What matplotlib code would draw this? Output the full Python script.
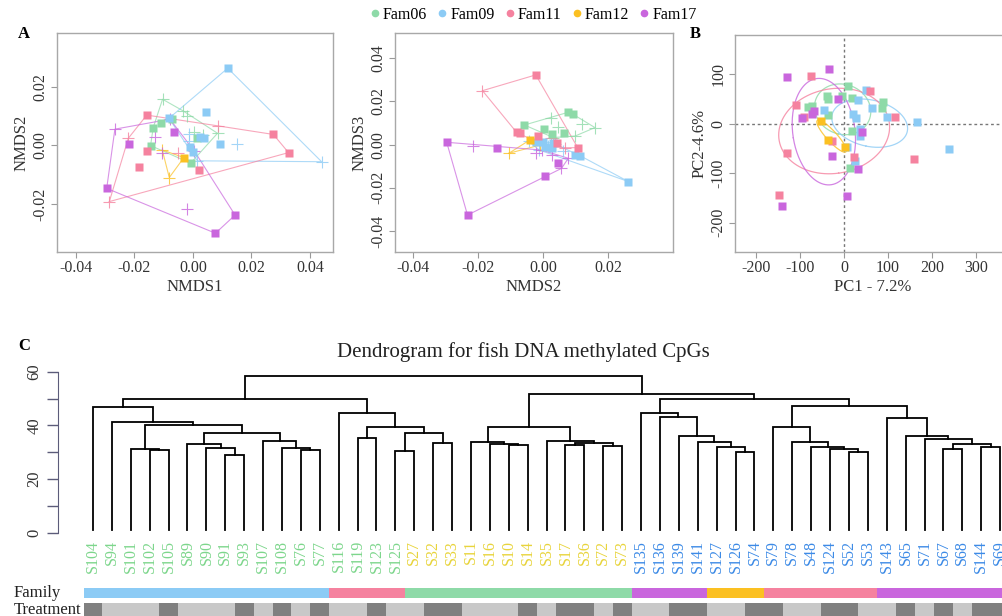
import numpy as np
import matplotlib.pyplot as plt
from matplotlib.lines import Line2D

plt.rcParams['font.family'] = ['Liberation Serif', 'DejaVu Serif']
plt.rcParams['axes.unicode_minus'] = False

families = ['Fam06', 'Fam09', 'Fam11', 'Fam12', 'Fam17']
fam_colors = ['#8EDAA8', '#8CCBF5', '#F5829F', '#FBC022', '#C966DD']
fam_counts = [12, 13, 10, 3, 11]

# Panel A: NMDS1 vs NMDS2 (shape 1 = square, 0 = plus)
nmds1_a = [-0.0104, -0.0033, -0.0022, 0.0084, 0.0033, 0.0005, -0.0073, -0.0109, -0.0136, -0.0145, -0.0008, 0.0013,
           0.0119, 0.0043, -0.0082, 0.0024, 0.0038, 0.0091, -0.0010, -0.0001, 0.0440, -0.0013, 0.0152, 0.0015, -0.0012,
           -0.0158, 0.0275, 0.0327, -0.0156, -0.0185, 0.0022, 0.0087, -0.0221, -0.0286, -0.0052,
           -0.0031, -0.0105, -0.0081,
           -0.0295, -0.0220, -0.0066, 0.0144, 0.0077, -0.0267, -0.0130, -0.0079, -0.0019, -0.0105, 0.0005]
nmds2_a = [0.0157, 0.0117, 0.0101, 0.0041, 0.0035, 0.0045, 0.0090, 0.0075, 0.0060, -0.0001, -0.0061, 0.0026,
           0.0263, 0.0113, 0.0092, 0.0027, 0.0024, 0.0003, -0.0005, -0.0022, -0.0056, 0.0039, 0.0004, -0.0053, 0.0015,
           0.0103, 0.0037, -0.0025, -0.0018, -0.0073, -0.0084, 0.0066, 0.0024, -0.0192, -0.0025,
           -0.0042, -0.0016, -0.0110,
           -0.0147, 0.0003, 0.0044, -0.0238, -0.0300, 0.0055, 0.0027, 0.0089, -0.0218, -0.0025, -0.0020]
shape_a = [0, 0, 0, 0, 0, 0, 1, 1, 1, 1, 1, 1,
           1, 1, 1, 1, 1, 1, 1, 1, 0, 0, 0, 0, 0,
           1, 1, 1, 1, 1, 1, 0, 0, 0, 0,
           1, 0, 0,
           1, 1, 1, 1, 1, 0, 0, 0, 0, 0, 0]

# Panel A (right): NMDS2 vs NMDS3
nmds2_b = [0.0023, 0.0046, 0.0119, 0.0159, 0.0098, 0.0031, -0.0058, 0.0077, 0.0090, 0.0002, 0.0027, 0.0063,
           0.0262, 0.0097, 0.0113, -0.0021, 0.0000, 0.0005, 0.0028, 0.0031, -0.0045, -0.0012, 0.0035, 0.0060, 0.0015,
           -0.0023, -0.0082, -0.0072, -0.0015, 0.0041, 0.0106, -0.0187, 0.0067, 0.0024, 0.0000,
           -0.0041, -0.0106, -0.0010,
           -0.0297, -0.0142, 0.0046, 0.0005, -0.0233, -0.0215, -0.0022, 0.0027, 0.0056, 0.0077, -0.0005]
nmds3_b = [0.0125, 0.0083, 0.0096, 0.0079, 0.0040, 0.0033, 0.0091, 0.0150, 0.0142, 0.0071, 0.0049, 0.0053,
           -0.0171, -0.0048, -0.0051, 0.0014, 0.0014, -0.0009, -0.0014, 0.0006, 0.0015, -0.0025, 0.0003, -0.0030, -0.0008,
           0.0323, 0.0057, 0.0053, 0.0042, 0.0009, -0.0014, 0.0250, -0.0014, 0.0029, -0.0002,
           0.0022, -0.0040, -0.0002,
           0.0011, -0.0014, -0.0083, -0.0145, -0.0326, -0.0005, -0.0040, -0.0050, -0.0110, -0.0063, -0.0025]
shape_b = [0, 0, 0, 0, 0, 0, 1, 1, 1, 1, 1, 1,
           1, 1, 1, 1, 1, 1, 1, 1, 0, 0, 0, 0, 0,
           1, 1, 1, 1, 1, 1, 0, 0, 0, 0,
           1, 0, 0,
           1, 1, 1, 1, 1, 0, 0, 0, 0, 0, 0]

# Panel B: PCA scores
pc1 = [9.8, -37.9, -35.6, -82.6, -73.5, 17.4, 88.0, 87.1, -37.0, 18.9, 13.6, -5.0,
       50.0, 32.6, -44.7, 21.2, 26.6, 64.4, 98.5, 166.6, 238.6, 36.4, 36.4, 7.5, 25.0,
       -75.0, -109.8, -130.2, -147.7, 59.1, 115.9, 159.0, -28.0, 23.4, -90.2,
       -52.3, -35.6, 3.4,
       -130.2, -33.4, -14.3, -94.8, -68.0, -73.4, 40.2, -28.0, 32.6, 6.1, -140.2]
pc2 = [75.8, 55.6, 49.6, 34.1, 35.5, 51.0, 44.0, 30.8, 17.3, -15.0, -89.0, 56.0,
       67.6, 47.4, 27.4, 19.3, 10.6, 32.0, 13.8, 3.7, -51.3, -11.6, -24.4, -48.0, -75.0,
       96.0, 37.5, -59.9, -144.0, 66.3, 13.8, -72.0, -34.5, -66.8, 13.8,
       5.2, -33.2, -48.0,
       93.3, 109.5, 49.6, 11.8, 25.3, 18.6, -17.6, -65.5, -91.7, -146.2, -165.7]

# Dendrogram (leaves in plotted order)
leaf_names = ['S104', 'S94', 'S101', 'S102', 'S105', 'S89', 'S90', 'S91', 'S93', 'S107', 'S108', 'S76', 'S77',
              'S116', 'S119', 'S123', 'S125', 'S27', 'S32', 'S33', 'S11', 'S16', 'S10', 'S14', 'S35', 'S17',
              'S36', 'S72', 'S73', 'S135', 'S136', 'S139', 'S141', 'S127', 'S126', 'S74', 'S79', 'S78', 'S48',
              'S124', 'S52', 'S53', 'S143', 'S65', 'S71', 'S67', 'S68', 'S144', 'S69']
leaf_cluster = [0, 0, 0, 0, 0, 0, 0, 0, 0, 0, 0, 0, 0, 0, 0, 0, 0,
                1, 1, 1, 1, 1, 1, 1, 1, 1, 1, 1, 1,
                2, 2, 2, 2, 2, 2, 2, 2, 2, 2, 2, 2, 2, 2, 2, 2, 2, 2, 2, 2]
cluster_colors = ['#7DD68C', '#E8D43C', '#3C8AE6']
leaf_family = ['Fam09', 'Fam09', 'Fam09', 'Fam09', 'Fam09', 'Fam09', 'Fam09', 'Fam09', 'Fam09', 'Fam09', 'Fam09',
               'Fam09', 'Fam09', 'Fam11', 'Fam11', 'Fam11', 'Fam11', 'Fam06', 'Fam06', 'Fam06', 'Fam06', 'Fam06',
               'Fam06', 'Fam06', 'Fam06', 'Fam06', 'Fam06', 'Fam06', 'Fam06', 'Fam17', 'Fam17', 'Fam17', 'Fam17',
               'Fam12', 'Fam12', 'Fam12', 'Fam11', 'Fam11', 'Fam11', 'Fam11', 'Fam11', 'Fam11', 'Fam17', 'Fam17',
               'Fam17', 'Fam17', 'Fam17', 'Fam17', 'Fam17']
leaf_treatment = [1, 0, 0, 0, 1, 0, 0, 0, 1, 0, 1, 0, 1, 0, 0, 1, 0, 0, 1, 1, 0, 0, 0, 1, 0, 1, 1, 0, 1,
                  0, 0, 1, 1, 0, 0, 1, 1, 0, 0, 1, 1, 0, 0, 1, 0, 1, 0, 1, 1]
treat_colors = ['#C8C8C8', '#808080']

# merges: node ids < 49 are leaves, >= 49 are earlier merges
merge_left = [3, 2, 7, 6, 5, 11, 10, 9, 53, 50, 1, 0,
              14, 16, 18, 62, 61, 13, 60,
              22, 21, 20, 25, 27, 71, 24, 70,
              34, 33, 32, 31, 30, 29,
              40, 39, 38, 37, 36,
              45, 47, 87, 44, 43, 42, 86, 81, 75, 67]
merge_right = [4, 49, 8, 51, 52, 12, 54, 55, 56, 57, 58, 59,
               15, 17, 19, 63, 64, 65, 66,
               23, 68, 69, 26, 28, 72, 73, 74,
               35, 76, 77, 78, 79, 80,
               41, 82, 83, 84, 85,
               46, 48, 88, 89, 90, 91, 92, 93, 94, 95]
merge_height = [30.8, 31.2, 29.0, 31.5, 33.1, 30.8, 31.5, 34.2, 37.1, 40.2, 41.4, 46.8,
                35.5, 30.5, 33.6, 37.1, 39.5, 44.5, 49.9,
                32.6, 33.0, 33.7, 32.7, 32.4, 33.6, 34.2, 39.3,
                30.3, 32.1, 34.0, 36.2, 43.3, 44.5,
                30.3, 31.1, 32.1, 33.7, 39.3,
                31.2, 32.1, 33.1, 35.0, 36.1, 42.9, 47.4, 49.9, 51.6, 58.5]

W, H = 1003, 616


def box(x0, y0, x1, y1):
    return [x0 / W, 1 - y1 / H, (x1 - x0) / W, (y1 - y0) / H]


def hull(pts):
    pts = sorted(set(map(tuple, pts)))
    if len(pts) < 3:
        return pts

    def cross(o, a, b):
        return (a[0] - o[0]) * (b[1] - o[1]) - (a[1] - o[1]) * (b[0] - o[0])
    lower, upper = [], []
    for p in pts:
        while len(lower) >= 2 and cross(lower[-2], lower[-1], p) <= 0:
            lower.pop()
        lower.append(p)
    for p in reversed(pts):
        while len(upper) >= 2 and cross(upper[-2], upper[-1], p) <= 0:
            upper.pop()
        upper.append(p)
    return lower[:-1] + upper[:-1]


def style_axes(ax):
    for s in ax.spines.values():
        s.set_color('#A8A8A8')
        s.set_linewidth(1.0)
    ax.tick_params(direction='out', length=4, width=0.8, color='#999999',
                   labelcolor='#333333', labelsize=11.5, pad=2)
    ax.tick_params(axis='y', labelrotation=90)
    for lbl in ax.get_yticklabels():
        lbl.set_va('center')


def fam_slices():
    start = 0
    for f, c, n in zip(families, fam_colors, fam_counts):
        yield f, c, slice(start, start + n)
        start += n


def nmds_panel(ax, xs, ys, shapes):
    xs, ys, shapes = np.array(xs), np.array(ys), np.array(shapes)
    for f, c, sl in fam_slices():
        x, y, s = xs[sl], ys[sl], shapes[sl]
        h = hull(np.column_stack([x, y]))
        h = h + h[:1]
        ax.plot([p[0] for p in h], [p[1] for p in h], color=c, lw=0.8, alpha=0.7, zorder=1)
        ax.plot(x[s == 1], y[s == 1], 's', color=c, ms=5.2, mec='none', zorder=3)
        ax.plot(x[s == 0], y[s == 0], '+', color=c, ms=8, mew=0.8, alpha=0.8, zorder=2)


fig = plt.figure(figsize=(W / 100, H / 100), dpi=100)

# ---- NMDS1 vs NMDS2
ax1 = fig.add_axes(box(57, 33, 333, 252))
nmds_panel(ax1, nmds1_a, nmds2_a, shape_a)
ax1.set_xlim(-0.0465, 0.0479)
ax1.set_ylim(-0.0364, 0.0383)
ax1.set_xticks([-0.04, -0.02, 0.0, 0.02, 0.04])
ax1.set_xticklabels(['-0.04', '-0.02', '0.00', '0.02', '0.04'])
ax1.set_yticks([-0.02, 0.0, 0.02])
ax1.set_yticklabels(['-0.02', '0.00', '0.02'])
ax1.set_xlabel('NMDS1', fontsize=12, color='#333333', labelpad=2)
ax1.set_ylabel('NMDS2', fontsize=12, color='#333333', labelpad=2)
style_axes(ax1)

# ---- NMDS2 vs NMDS3
ax2 = fig.add_axes(box(395, 33, 673, 252))
nmds_panel(ax2, nmds2_b, nmds3_b, shape_b)
ax2.set_xlim(-0.0456, 0.0399)
ax2.set_ylim(-0.0497, 0.0517)
ax2.set_xticks([-0.04, -0.02, 0.0, 0.02])
ax2.set_xticklabels(['-0.04', '-0.02', '0.00', '0.02'])
ax2.set_yticks([-0.04, -0.02, 0.0, 0.02, 0.04])
ax2.set_yticklabels(['-0.04', '-0.02', '0.00', '0.02', '0.04'])
ax2.set_xlabel('NMDS2', fontsize=12, color='#333333', labelpad=2)
ax2.set_ylabel('NMDS3', fontsize=12, color='#333333', labelpad=2)
style_axes(ax2)

# ---- PCA
ax3 = fig.add_axes(box(735, 35, 1010, 252))
ax3.axhline(0, color='#777777', lw=1.0, ls=(0, (2, 2)), zorder=0)
ax3.axvline(0, color='#777777', lw=1.0, ls=(0, (2, 2)), zorder=0)
px, py = np.array(pc1), np.array(pc2)
scale = np.sqrt(-2 * np.log(0.5))
t = np.linspace(0, 2 * np.pi, 200)
for f, c, sl in fam_slices():
    x, y = px[sl], py[sl]
    cov = np.cov(x, y)
    vals, vecs = np.linalg.eigh(cov)
    circ = np.vstack([np.cos(t), np.sin(t)]) * np.sqrt(vals)[:, None] * scale
    ell = vecs @ circ
    ax3.plot(x.mean() + ell[0], y.mean() + ell[1], color=c, lw=0.9, alpha=0.8, zorder=1)
    ax3.plot(x, y, 's', color=c, ms=5.2, mec='none', zorder=3)
ax3.set_xlim(-247.7, 377.3)
ax3.set_ylim(-259, 178.7)
ax3.set_xticks([-200, -100, 0, 100, 200, 300])
ax3.set_yticks([-200, -100, 0, 100])
ax3.set_xlabel('PC1 - 7.2%', fontsize=12, color='#333333', labelpad=2)
ax3.set_ylabel('PC2-4.6%', fontsize=12, color='#333333', labelpad=2)
style_axes(ax3)

# legend
handles = [Line2D([], [], marker='o', ls='none', color=c, ms=4.5) for c in fam_colors]
fig.legend(handles, families, loc='center', bbox_to_anchor=(533 / W, 1 - 15 / H), ncol=5,
           frameon=False, fontsize=11.5, handletextpad=0.15, columnspacing=0.6, handlelength=0.7)

fig.text(18 / W, 1 - 38 / H, 'A', fontsize=12, fontweight='bold')
fig.text(690 / W, 1 - 38 / H, 'B', fontsize=12, fontweight='bold')
fig.text(18 / W, 1 - 350 / H, 'C', fontsize=12, fontweight='bold')

# ---- Dendrogram
axd = fig.add_axes(box(58, 365, 1003, 583))
n = len(leaf_names)
node_x = list(range(n))
node_h = [1.0] * n
for a, b, h in zip(merge_left, merge_right, merge_height):
    xa, xb = node_x[a], node_x[b]
    axd.plot([xa, xa, xb, xb], [node_h[a], h, h, node_h[b]], color='black', lw=1.3,
             solid_joinstyle='miter')
    node_x.append((xa + xb) / 2)
    node_h.append(h)
for i, name in enumerate(leaf_names):
    axd.text(i, -2.6, name, rotation=90, ha='center', va='top', fontsize=11.5,
             color=cluster_colors[leaf_cluster[i]])
axd.set_xlim(-1.852, 48.15)
axd.set_ylim(-18.6, 62.5)
for s in ['top', 'right', 'bottom']:
    axd.spines[s].set_visible(False)
axd.spines['left'].set_bounds(0, 60)
axd.spines['left'].set_color('#5C5C7A')
axd.set_xticks([])
axd.set_yticks([0, 10, 20, 30, 40, 50, 60])
axd.set_yticklabels(['0', '', '20', '', '40', '', '60'])
axd.tick_params(axis='y', direction='out', length=8, width=1, color='#5C5C7A',
                labelsize=12, labelcolor='#333333', labelrotation=90, pad=3)
for lbl in axd.get_yticklabels():
    lbl.set_va('center')
fig.text(523 / W, 1 - 352 / H, 'Dendrogram for fish DNA methylated CpGs', ha='center',
         va='center', fontsize=15, color='#222222')

# ---- Family / Treatment bars
axb = fig.add_axes(box(58, 587.7, 1003, 625))
axb.bar(range(n), 1, bottom=0, width=1,
        color=[fam_colors[families.index(f)] for f in leaf_family])
axb.bar(range(n), 1.5, bottom=1.456, width=1,
        color=[treat_colors[v] for v in leaf_treatment])
axb.set_xlim(-1.852, 48.15)
axb.set_ylim(3.62, 0)
axb.axis('off')
fig.text(14 / W, 1 - 593 / H, 'Family', fontsize=12, va='center', color='#222222')
fig.text(14 / W, 1 - 610 / H, 'Treatment', fontsize=12, va='center', color='#222222')

fig.savefig('out.png', dpi=100)
